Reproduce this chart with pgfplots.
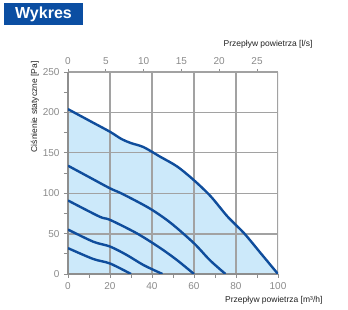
\documentclass[border=0pt]{standalone}
\usepackage{pgfplots}
\pgfplotsset{compat=1.18}
\usepackage{fontspec}
\setmainfont{Liberation Sans}
\definecolor{titleblue}{HTML}{0B4EA2}
\definecolor{curveblue}{HTML}{0F4D9C}
\definecolor{fillblue}{HTML}{CCE9FA}
\definecolor{gridgray}{HTML}{A2A2A2}
\definecolor{axgray}{HTML}{8E8E8E}
\definecolor{ticklab}{HTML}{8A8A8A}
\definecolor{labtext}{HTML}{222222}
\begin{document}
\begin{tikzpicture}[x=1pt,y=1pt]
\path (0,0) rectangle (348,310);
\node[fill=titleblue, text=white, font=\bfseries\fontsize{16}{18}\selectfont, minimum width=79pt, minimum height=22pt, inner sep=0pt] at (43.5,296) {Wykres};
\begin{axis}[
  at={(68pt,36pt)}, anchor=south west,
  scale only axis, width=210pt, height=202pt,
  xmin=0, xmax=27.7778, ymin=0, ymax=250,
  axis x line*=top, axis y line=none,
  ytick=\empty,
  xtick={0,5,...,25},
  tick align=outside, major tick length=3pt,
  tick style={axgray, line width=0.9pt},
  axis line style={axgray, line width=1.6pt},
  ticklabel style={font=\fontsize{10}{12}\selectfont, text=ticklab},
  /pgf/number format/assume math mode=true,
  xticklabel style={yshift=1pt},
]
\addplot[draw=none] coordinates {(0,0) (27.7778,250)};
\end{axis}
\begin{axis}[
  at={(68pt,36pt)}, anchor=south west,
  scale only axis, width=210pt, height=202pt,
  xmin=0, xmax=100, ymin=0, ymax=250,
  xtick={0,20,...,100}, ytick={0,50,...,250},
  minor xtick={10,30,...,90}, minor ytick={25,75,...,225},
  axis line style={axgray, line width=1.6pt},
  axis x line*=bottom, axis y line*=left,
  tick align=outside,
  major tick length=4pt, minor tick length=4pt,
  tick style={axgray, line width=0.9pt},
  ticklabel style={font=\fontsize{10}{12}\selectfont, text=ticklab},
  /pgf/number format/assume math mode=true,
  xticklabel style={yshift=-1pt},
  yticklabel style={xshift=-1pt},
]
\addplot[fill=fillblue, draw=none, smooth, tension=0.5] coordinates {
(0,204) (10,190) (20,176) (25.5,167) (30,162) (36,157) (44,145) (52,133) (60,116) (68,96) (76,71) (84,50) (92,25) (100,0)} \closedcycle;
\addplot[color=gridgray, line width=1.3pt] coordinates {(20,0) (20,250)};
\addplot[color=gridgray, line width=1.3pt] coordinates {(40,0) (40,250)};
\addplot[color=gridgray, line width=1.3pt] coordinates {(60,0) (60,250)};
\addplot[color=gridgray, line width=1.3pt] coordinates {(80,0) (80,250)};
\addplot[color=gridgray, line width=1.3pt] coordinates {(100,0) (100,250)};
\addplot[color=gridgray, line width=2pt] coordinates {(0,50) (100,50)};
\addplot[color=gridgray, line width=1.3pt] coordinates {(0,100) (100,100)};
\addplot[color=gridgray, line width=1.3pt] coordinates {(0,150) (100,150)};
\addplot[color=gridgray, line width=1.3pt] coordinates {(0,200) (100,200)};
\addplot[color=gridgray, line width=1.3pt] coordinates {(0,250) (100,250)};
\addplot[color=axgray, line width=1.6pt] coordinates {(0,250) (0,0) (100,0)};
\addplot[color=curveblue, line width=2.4pt, smooth, tension=0.5] coordinates {
(0,204) (10,190) (20,176) (25.5,167) (30,162) (36,157) (44,145) (52,133) (60,116) (68,96) (76,71) (84,50) (92,25) (100,0)};
\addplot[color=curveblue, line width=2.4pt, smooth, tension=0.5] coordinates {
(0,134) (10,120) (20,106) (26,99) (39,81) (49,63) (60,38) (67.6,17) (75,0)};
\addplot[color=curveblue, line width=2.4pt, smooth, tension=0.5] coordinates {
(0,91) (15,71) (20,67) (33,50) (44,32) (52,17) (60,0)};
\addplot[color=curveblue, line width=2.4pt, smooth, tension=0.5] coordinates {
(0,55) (12,40) (20,34) (28,23.5) (36,11) (45,0)};
\addplot[color=curveblue, line width=2.4pt, smooth, tension=0.5] coordinates {
(0,32) (12,18.6) (20,13) (30,0)};
\end{axis}
\node[anchor=east, text=labtext, font=\fontsize{8.5}{10}\selectfont] at (316,266) {Przepływ powietrza [l/s]};
\node[anchor=east, text=labtext, font=\fontsize{8.5}{10}\selectfont] at (326,10) {Przepływ powietrza [m³/h]};
\node[anchor=east, rotate=90, text=labtext, font=\fontsize{8.5}{10}\selectfont] at (35,252) {Ciśnienie statyczne [Pa]};
\end{tikzpicture}
\end{document}
